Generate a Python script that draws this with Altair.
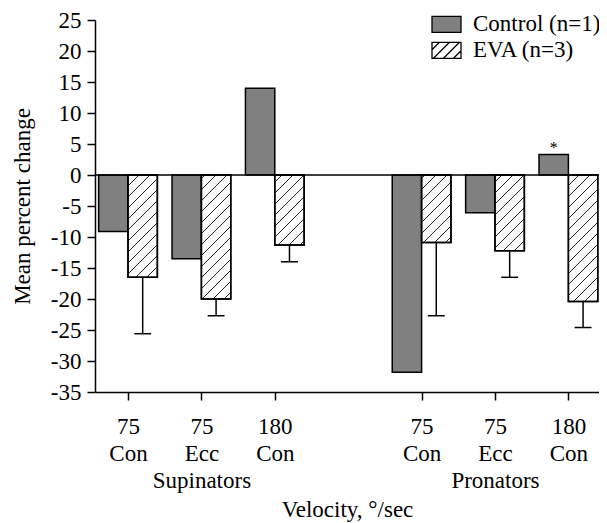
import json
import altair as alt
import pandas as pd

# ---------------- data ----------------
muscles = ["Supinators", "Pronators"]
velocities = ["75", "75", "180"]
modes = ["Con", "Ecc", "Con"]
series = ["Control (n=1)", "EVA (n=3)"]
control_values = [-9.1, -13.5, 14.0, -31.8, -6.1, 3.3]
eva_values = [-16.5, -20.0, -11.3, -10.9, -12.2, -20.4]
eva_sd = [9.1, 2.7, 2.7, 11.8, 4.3, 4.2]
control_marks = ["", "", "", "", "", "*"]

# ---------------- layout constants ----------------
W, H = 504, 372
X_DOMAIN = [-0.4496, 6.417]
Y_DOMAIN = [-35, 25]
BAR_W = 0.40
CAP = 0.115
HATCH_STEP = 11.0  # px, vertical spacing of hatch lines
FONT = "Liberation Serif"
FS = 23

kx = W / (X_DOMAIN[1] - X_DOMAIN[0])
ky = H / (Y_DOMAIN[1] - Y_DOMAIN[0])

# ---------------- tables ----------------
bar_rows, err_rows, hatch_rows, star_rows = [], [], [], []
slot_labels = {}
i = 0
for m_i, muscle in enumerate(muscles):
    for v_i, (vel, mode) in enumerate(zip(velocities, modes)):
        slot = m_i * 4 + v_i
        lines = [vel, mode] + ([muscle] if v_i == 1 else [])
        slot_labels[slot] = lines
        cv, ev, sd = control_values[i], eva_values[i], eva_sd[i]
        bar_rows.append(dict(series=series[0], x0=slot - BAR_W, x1=slot, value=cv, base=0,
                             xc=slot - BAR_W / 2))
        bar_rows.append(dict(series=series[1], x0=slot, x1=slot + BAR_W, value=ev, base=0,
                             xc=slot + BAR_W / 2))
        xc = slot + BAR_W / 2
        err_rows.append(dict(xc=xc, value=ev, lower=ev - sd, c0=xc - CAP, c1=xc + CAP))
        star_rows.append(dict(xc=slot - BAR_W / 2, value=cv, mark=control_marks[i]))
        # hatch lines "/" inside EVA bar (pixel space, y up)
        X0, X1 = slot * kx, (slot + BAR_W) * kx
        Yb, Yt = min(ev, 0) * ky, max(ev, 0) * ky
        k_lo = int((Yb - X1) // HATCH_STEP) - 1
        k_hi = int((Yt - X0) // HATCH_STEP) + 1
        for k in range(k_lo, k_hi + 1):
            c = k * HATCH_STEP
            xs = max(X0, Yb - c)
            xe = min(X1, Yt - c)
            if xe - xs > 0.5:
                hatch_rows.append(dict(hx=xs / kx, hx2=xe / kx,
                                       hy=(xs + c) / ky, hy2=(xe + c) / ky))
        i += 1

bars_df = pd.DataFrame(bar_rows)
eva_df = bars_df[bars_df.series == series[1]]
err_df = pd.DataFrame(err_rows)
hatch_df = pd.DataFrame(hatch_rows)
star_df = pd.DataFrame(star_rows)
zero_df = pd.DataFrame({"zero": [0]})

# ---------------- scales / axes ----------------
x_scale = alt.Scale(domain=X_DOMAIN, nice=False, zero=False)
y_scale = alt.Scale(domain=Y_DOMAIN, nice=False, zero=False)

label_expr = " : ".join(
    f"datum.value == {s} ? {json.dumps(lines)}" for s, lines in slot_labels.items()
) + " : ''"

x_axis = alt.Axis(
    values=list(slot_labels.keys()), labelExpr=label_expr, title="Velocity, °/sec",
    grid=False, tickSize=8, labelPadding=15, labelLineHeight=27, labelOverlap=False,
    labelFlush=False, titlePadding=6, tickCount=20,
)
y_axis = alt.Axis(
    values=list(range(-35, 26, 5)), labelExpr="'' + datum.value", title="Mean percent change",
    grid=False, tickSize=8, labelPadding=6, titlePadding=16, labelOverlap=False,
    labelFlush=False, tickCount=20,
)

# legend symbols (custom paths, unit = sqrt(symbolSize)/2 px)
SYM = 625
u = (SYM ** 0.5) / 2
hw, hh = 14.5 / u, 8.0 / u
rect_path = f"M{-hw:.3f},{-hh:.3f}H{hw:.3f}V{hh:.3f}H{-hw:.3f}Z"
hatch_path = ""
for c in [-1.2, -0.4, 0.4, 1.2]:
    xs, xe = max(-hw, c - hh), min(hw, c + hh)
    if xe > xs:
        hatch_path += f"M{xs:.3f},{hh - (xs - (c - hh)):.3f}L{xe:.3f},{hh - (xe - (c - hh)):.3f}"
p_control = rect_path
p_eva = rect_path + hatch_path

fill_scale = alt.Scale(domain=series, range=["#808080", "white"])
shape_scale = alt.Scale(domain=series, range=[p_control, p_eva])
stroke_scale = alt.Scale(domain=series, range=["black", "black"])
legend = alt.Legend(
    title=None, orient="none", legendX=338, legendY=-9.2, symbolSize=SYM,
    symbolStrokeColor="black", symbolStrokeWidth=1.3, symbolOpacity=1,
    labelFont=FONT, labelFontSize=FS, labelColor="black", labelOffset=13,
    rowPadding=0, padding=0,
)

base = alt.Chart(bars_df)

bars = base.mark_rect(stroke="black", strokeWidth=1.5).encode(
    x=alt.X("x0:Q", scale=x_scale, axis=x_axis),
    x2="x1:Q",
    y=alt.Y("value:Q", scale=y_scale, axis=y_axis),
    y2="base:Q",
    fill=alt.Fill("series:N", scale=fill_scale, legend=legend),
)

hatch = alt.Chart(hatch_df).mark_rule(stroke="#222222", strokeWidth=1).encode(
    x="hx:Q", x2="hx2:Q", y="hy:Q", y2="hy2:Q",
)

outline = alt.Chart(eva_df).mark_rect(stroke="black", strokeWidth=1.5, fillOpacity=0).encode(
    x="x0:Q", x2="x1:Q", y="value:Q", y2="base:Q",
)

err_v = alt.Chart(err_df).mark_rule(color="black", strokeWidth=1.5).encode(
    x="xc:Q", y="value:Q", y2="lower:Q",
)
err_c = alt.Chart(err_df).mark_rule(color="black", strokeWidth=1.5).encode(
    x="c0:Q", x2="c1:Q", y="lower:Q",
)

zero_line = alt.Chart(zero_df).mark_rule(color="black", strokeWidth=1.5).encode(y="zero:Q")

stars = alt.Chart(star_df).mark_text(
    font=FONT, fontSize=16, baseline="alphabetic", dy=-2, color="black"
).encode(x="xc:Q", y="value:Q", text="mark:N")

legend_pts = base.mark_point(filled=True, size=0, strokeWidth=1.3, opacity=1).encode(
    x="xc:Q", y="value:Q",
    fill=alt.Fill("series:N", scale=fill_scale, legend=legend),
    shape=alt.Shape("series:N", scale=shape_scale, legend=legend),
    stroke=alt.Stroke("series:N", scale=stroke_scale, legend=legend),
)

chart = alt.layer(bars, hatch, outline, err_v, err_c, zero_line, stars, legend_pts).properties(
    width=W, height=H,
    background="white",
    autosize=alt.AutoSizeParams(type="none"),
    padding={"left": 87, "top": 12, "right": 0, "bottom": 131},
).configure_view(stroke=None).configure_axis(
    domainColor="black", domainWidth=1.5, tickColor="black", tickWidth=1.5,
    labelFont=FONT, labelFontSize=FS, labelColor="black",
    titleFont=FONT, titleFontSize=FS, titleFontWeight="normal", titleColor="black",
)

chart.save("out.html", embed_options={"renderer": "svg", "actions": False})
